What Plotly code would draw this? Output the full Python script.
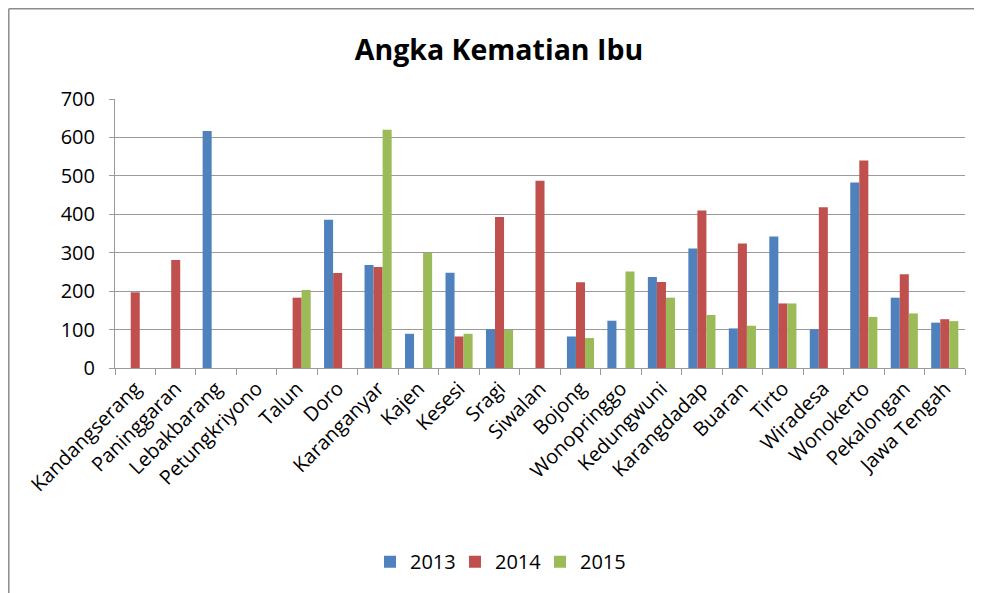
import plotly.graph_objects as go

categories = ["Kandangserang", "Paninggaran", "Lebakbarang", "Petungkriyono", "Talun",
              "Doro", "Karanganyar", "Kajen", "Kesesi", "Sragi", "Siwalan", "Bojong",
              "Wonopringgo", "Kedungwuni", "Karangdadap", "Buaran", "Tirto", "Wiradesa",
              "Wonokerto", "Pekalongan", "Jawa Tengah"]

v2013 = [None, None, 617, None, None, 386, 268, 89, 248, 101, None, 82,
         123, 237, 311, 103, 342, 101, 483, 183, 118]
v2014 = [197, 281, None, None, 183, 247, 263, None, 82, 393, 487, 223,
         None, 224, 410, 324, 168, 418, 540, 244, 127]
v2015 = [None, None, None, None, 203, None, 620, 299, 89, 99, None, 78,
         251, 183, 138, 110, 168, None, 133, 142, 122]

series = [("2013", v2013, "#4F81BD"), ("2014", v2014, "#C0504D"), ("2015", v2015, "#9BBB59")]

fig = go.Figure()
for name, vals, col in series:
    fig.add_trace(go.Bar(x=categories, y=vals, name=name, marker_color=col,
                         marker_line_width=0))

W, H = 982, 593
ML, MR, MT, MB = 107, 25, 91, 233
PW, PH = W - ML - MR, H - MT - MB

font_family = "Open Sans, Liberation Sans, sans-serif"
fig.update_layout(
    width=W, height=H,
    margin=dict(l=ML, r=MR, t=MT, b=MB, autoexpand=False),
    paper_bgcolor="white", plot_bgcolor="white",
    barmode="group", bargap=0.33, bargroupgap=0,
    font=dict(family=font_family, size=20, color="#000000"),
    title=dict(text="<b>Angka Kematian Ibu</b>", x=0.5, xanchor="center",
               y=0.929, yanchor="middle", font=dict(size=28.5, family=font_family)),
    legend=dict(orientation="h", x=0.45, xanchor="center", y=-0.72, yanchor="middle",
                font=dict(size=20), traceorder="normal", entrywidth=40),
    showlegend=True,
)
fig.update_yaxes(range=[0, 700], dtick=100, showgrid=True, gridcolor="#9A9A9A",
                 gridwidth=1, showline=True, linecolor="#9A9A9A", ticks="outside",
                 ticklen=5, tickcolor="#9A9A9A", zeroline=False, automargin=False,
                 ticklabelstandoff=10, tickfont=dict(size=20))
fig.update_xaxes(tickangle=-45, showline=True, linecolor="#9A9A9A", ticks="outside",
                 tickson="boundaries", ticklen=6, tickcolor="#9A9A9A", automargin=False,
                 tickfont=dict(size=20))
# outer frame (left and top edges visible in the reference)
fx0 = (0.8 - ML) / PW
fy0 = (PH + MT - 0.8) / PH
fig.add_shape(type="line", xref="paper", yref="paper", x0=fx0, x1=fx0,
              y0=fy0, y1=-MB / PH - 0.1, line=dict(color="#8C8C8C", width=1.5))
fig.add_shape(type="line", xref="paper", yref="paper", x0=fx0, x1=(W - ML) / PW + 0.1,
              y0=fy0, y1=fy0, line=dict(color="#8C8C8C", width=1.5))

fig.write_html("out.html", config={"displayModeBar": False})
